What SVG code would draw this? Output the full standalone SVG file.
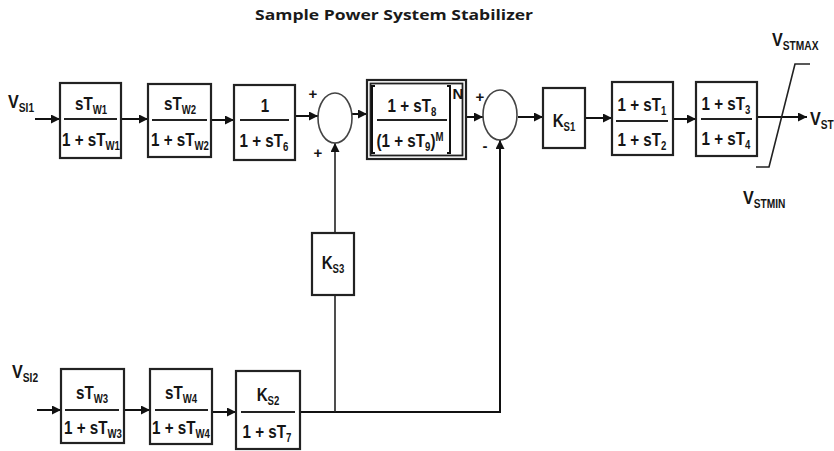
<svg xmlns="http://www.w3.org/2000/svg" width="834" height="451" viewBox="0 0 834 451">
<defs>
<marker id="ah" viewBox="0 0 10 10" refX="10" refY="5" markerWidth="9" markerHeight="9" markerUnits="userSpaceOnUse" orient="auto">
<path d="M0,0 L10,5 L0,10 z" fill="#111"/>
</marker>
<style>
.box{fill:#fff;stroke:#222;stroke-width:2.2}
.inner{fill:none;stroke:#222;stroke-width:1.8}
.sum{fill:#fff;stroke:#444;stroke-width:1.6}
.frac{stroke:#222;stroke-width:2}
.w{stroke:#111;stroke-width:2;fill:none}
.thin{stroke:#222;stroke-width:1.6;fill:none}
.t{font-family:"Liberation Sans",Arial,sans-serif;font-weight:bold;font-size:19px;fill:#151515;text-anchor:middle}
.l{font-family:"Liberation Sans",Arial,sans-serif;font-weight:bold;font-size:19px;fill:#151515}
.s{font-size:12px}
.sg{font-family:"Liberation Sans",Arial,sans-serif;font-weight:bold;font-size:15px;fill:#151515;text-anchor:middle}
.title{font-family:"Open Sans","Liberation Sans",sans-serif;font-weight:bold;font-size:14px;fill:#1a1a1a;text-anchor:middle}
</style>
</defs>

<text class="title" x="394" y="20" textLength="278" lengthAdjust="spacingAndGlyphs">Sample Power System Stabilizer</text>

<g id="connectors">
<path class="w" d="M35,119 H60" marker-end="url(#ah)"/>
<path class="w" d="M121,119 H148" marker-end="url(#ah)"/>
<path class="w" d="M211,120 H234" marker-end="url(#ah)"/>
<path class="w" d="M295,116 H318" marker-end="url(#ah)"/>
<path class="w" d="M352,114 H367" marker-end="url(#ah)"/>
<path class="w" d="M466,117 H483" marker-end="url(#ah)"/>
<path class="w" d="M518,117 H543" marker-end="url(#ah)"/>
<path class="w" d="M585,118 H612" marker-end="url(#ah)"/>
<path class="w" d="M673,119 H696" marker-end="url(#ah)"/>
<path class="w" d="M757,117 H807" marker-end="url(#ah)"/>
<path class="w" d="M37,410 H61" marker-end="url(#ah)"/>
<path class="w" d="M124,410 H150" marker-end="url(#ah)"/>
<path class="w" d="M212,412 H236" marker-end="url(#ah)"/>
<path class="w" d="M300,412 H500 V140" marker-end="url(#ah)"/>
<path class="thin" d="M335,412 V295"/>
<path class="thin" d="M335,233 V143" marker-end="url(#ah)"/>
</g>

<g id="vsi1"><text class="l" transform="translate(8,108) scale(0.85,1)">V<tspan class="s" dy="4">SI1</tspan></text></g>
<g id="vsi2"><text class="l" transform="translate(12,378) scale(0.85,1)">V<tspan class="s" dy="4">SI2</tspan></text></g>

<g id="tw1">
<rect class="box" x="60" y="83" width="61" height="75"/>
<line class="frac" x1="64" y1="119" x2="117" y2="119"/>
<text class="t" transform="translate(91,110) scale(0.8,1)">sT<tspan class="s" dy="4">W1</tspan></text>
<text class="t" transform="translate(91,146) scale(0.8,1)">1 + sT<tspan class="s" dy="4">W1</tspan></text>
</g>

<g id="tw2">
<rect class="box" x="148" y="84" width="63" height="73"/>
<line class="frac" x1="152" y1="120" x2="207" y2="120"/>
<text class="t" transform="translate(180,110) scale(0.8,1)">sT<tspan class="s" dy="4">W2</tspan></text>
<text class="t" transform="translate(180,146) scale(0.8,1)">1 + sT<tspan class="s" dy="4">W2</tspan></text>
</g>

<g id="t6">
<rect class="box" x="234" y="85" width="61" height="75"/>
<line class="frac" x1="240" y1="120" x2="289" y2="120"/>
<text class="t" transform="translate(265,112) scale(0.8,1)">1</text>
<text class="t" transform="translate(264,147) scale(0.8,1)">1 + sT<tspan class="s" dy="4">6</tspan></text>
</g>

<g id="sum1">
<ellipse class="sum" cx="335" cy="118" rx="17" ry="25"/>
<text class="sg" x="313" y="99">+</text>
<text class="sg" x="318" y="158">+</text>
</g>

<g id="t8t9">
<rect class="box" x="367" y="80" width="99" height="79" stroke-width="1.8"/>
<rect class="inner" x="370.5" y="83.5" width="92" height="72"/>
<path class="w" stroke-width="2.4" d="M375,86 H372 V153 H375"/>
<path class="w" stroke-width="2.4" d="M447,86 H450 V153 H447"/>
<line class="frac" x1="377" y1="120" x2="447" y2="120"/>
<text class="t" transform="translate(412,112) scale(0.8,1)">1 + sT<tspan class="s" dy="4">8</tspan></text>
<text class="t" transform="translate(410,147) scale(0.8,1)">(1 + sT<tspan class="s" dy="4">9</tspan><tspan dy="-4">)</tspan><tspan class="s" dy="-6">M</tspan></text>
<text class="sg" x="458" y="99" font-size="11">N</text>
</g>

<g id="sum2">
<ellipse class="sum" cx="500" cy="115" rx="17" ry="25"/>
<text class="sg" x="480" y="102">+</text>
<text class="sg" x="485" y="151">-</text>
</g>

<g id="ks1">
<rect class="box" x="543" y="88" width="42" height="60"/>
<text class="t" font-weight="normal" transform="translate(564,127) scale(0.8,1)">K<tspan class="s" dy="4">S1</tspan></text>
</g>

<g id="t1t2">
<rect class="box" x="612" y="82" width="61" height="73"/>
<line class="frac" x1="616" y1="121" x2="668" y2="121"/>
<text class="t" transform="translate(642,111) scale(0.8,1)">1 + sT<tspan class="s" dy="4">1</tspan></text>
<text class="t" transform="translate(642,146) scale(0.8,1)">1 + sT<tspan class="s" dy="4">2</tspan></text>
</g>

<g id="t3t4">
<rect class="box" x="696" y="82" width="61" height="74"/>
<line class="frac" x1="701" y1="119" x2="752" y2="119"/>
<text class="t" transform="translate(726,110) scale(0.8,1)">1 + sT<tspan class="s" dy="4">3</tspan></text>
<text class="t" transform="translate(726,145) scale(0.8,1)">1 + sT<tspan class="s" dy="4">4</tspan></text>
</g>

<g id="limiter">
<polyline class="thin" points="756,167 769,167 795,64 810,64"/>
<text class="l" transform="translate(772,46) scale(0.85,1)">V<tspan class="s" dy="4">STMAX</tspan></text>
<text class="l" transform="translate(743,204) scale(0.85,1)">V<tspan class="s" dy="4">STMIN</tspan></text>
</g>

<g id="vst"><text class="l" transform="translate(810,125) scale(0.85,1)">V<tspan class="s" dy="4">ST</tspan></text></g>

<g id="ks3">
<rect class="box" x="312" y="233" width="42" height="62"/>
<text class="t" font-weight="normal" transform="translate(333,269) scale(0.8,1)">K<tspan class="s" dy="4">S3</tspan></text>
</g>

<g id="tw3">
<rect class="box" x="61" y="369" width="63" height="74"/>
<line class="frac" x1="65" y1="410" x2="119" y2="410"/>
<text class="t" transform="translate(92,399) scale(0.8,1)">sT<tspan class="s" dy="4">W3</tspan></text>
<text class="t" transform="translate(93,434) scale(0.8,1)">1 + sT<tspan class="s" dy="4">W3</tspan></text>
</g>

<g id="tw4">
<rect class="box" x="150" y="369" width="62" height="75"/>
<line class="frac" x1="155" y1="410" x2="208" y2="410"/>
<text class="t" transform="translate(181,399) scale(0.8,1)">sT<tspan class="s" dy="4">W4</tspan></text>
<text class="t" transform="translate(181,434) scale(0.8,1)">1 + sT<tspan class="s" dy="4">W4</tspan></text>
</g>

<g id="ks2t7">
<rect class="box" x="236" y="371" width="64" height="78"/>
<line class="frac" x1="241" y1="412" x2="295" y2="412"/>
<text class="t" transform="translate(268,401) scale(0.8,1)">K<tspan class="s" dy="4">S2</tspan></text>
<text class="t" transform="translate(267,438) scale(0.8,1)">1 + sT<tspan class="s" dy="4">7</tspan></text>
</g>
</svg>
